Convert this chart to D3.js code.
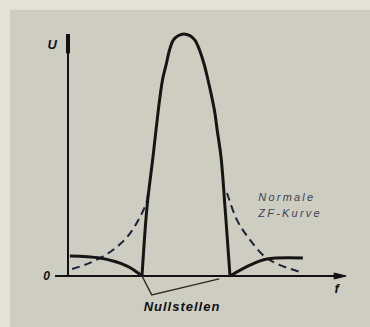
<!DOCTYPE html>
<html>
  <head>
    <meta charset="utf-8">
    <title>Normale ZF-Kurve</title>
    <script src="https://cdn.jsdelivr.net/npm/d3@7"></script>
    <style>

body {
  margin: 0;
  background: #e3e2d9;
}

text {
  font-family: "Liberation Sans", Arial, sans-serif;
  font-style: italic;
  font-weight: bold;
  fill: #111;
}

.axis line, .axis path {
  stroke: #111;
  stroke-width: 2;
  fill: none;
}

.main {
  fill: none;
  stroke: #151515;
  stroke-width: 3;
}

.normal {
  fill: none;
  stroke: #1c2336;
  stroke-width: 2;
  stroke-dasharray: 8 5;
}

.pointer {
  fill: none;
  stroke: #2a2a2a;
  stroke-width: 1.4;
}

.note {
  font-weight: normal;
  font-size: 11px;
  letter-spacing: 2.2px;
  fill: #3b4356;
}

    </style>
  </head>
  <body>
    <script>

// selektive Kurve: Hauptmaximum + Nebenkeulen (f, U)
var mainLobe = [
  [2.741, 0], [2.926, 0.285], [3.148, 0.492], [3.259, 0.603], [3.333, 0.674],
  [3.407, 0.74], [3.5, 0.81], [3.648, 0.88], [3.76, 0.934], [3.9, 0.975],
  [4.08, 0.993], [4.296, 1.0], [4.512, 0.993], [4.7, 0.975], [4.87, 0.934],
  [5.03, 0.88], [5.185, 0.81], [5.325, 0.74], [5.44, 0.674], [5.525, 0.603],
  [5.667, 0.492], [5.815, 0.285], [6.0, 0]
];
var leftLobe = [[0.07, 0.083], [1.19, 0.074], [2.19, 0.041], [2.741, 0]];
var rightLobe = [[6.0, 0], [6.74, 0.045], [7.37, 0.07], [8.7, 0.074]];

// normale ZF-Kurve (gestrichelt)
var normalLeft = [[0.15, 0.029], [0.81, 0.054], [1.56, 0.099], [2.19, 0.161], [2.67, 0.244], [2.93, 0.314], [2.96, 0.355]];
var normalRight = [[5.89, 0.343], [6.26, 0.231], [6.74, 0.149], [7.3, 0.079], [7.85, 0.045], [8.6, 0.017]];

// Nullstellen-Hinweis
var zeros = [2.741, 6.0];
var pointerTip = [3.1, -0.078];

var labelU = "U",
    labelF = "f",
    labelZero = "0",
    labelZeros = "Nullstellen",
    noteLines = ["Normale", "ZF-Kurve"];

var w = 370,
    h = 327,
    x = d3.scaleLinear().domain([0, 10]).range([68, 338]),
    y = d3.scaleLinear().domain([0, 1]).range([276, 34]);

var svg = d3.select("body")
  .append("svg")
    .attr("width", w)
    .attr("height", h);

svg.append("rect")
    .attr("x", 10)
    .attr("y", 10)
    .attr("width", w - 10)
    .attr("height", h - 10)
    .attr("fill", "#cecdc1");

// Achsen
var ax = svg.append("g").attr("class", "axis");

ax.append("line")
    .attr("x1", x(0))
    .attr("x2", x(0))
    .attr("y1", y(1))
    .attr("y2", y(0));

ax.append("line")
    .style("stroke-width", 4)
    .attr("x1", x(0))
    .attr("x2", x(0))
    .attr("y1", y(1))
    .attr("y2", y(0.92));

ax.append("line")
    .attr("x1", x(-0.48))
    .attr("x2", x(10.1))
    .attr("y1", y(0))
    .attr("y2", y(0));

ax.append("path")
    .style("fill", "#111")
    .style("stroke-width", 1)
    .attr("d", "M" + x(10.3) + "," + y(0) + "l-12,-3v6z");

svg.append("text")
    .attr("x", x(0) - 11)
    .attr("y", y(0.94))
    .attr("font-size", 13)
    .attr("text-anchor", "end")
    .text(labelU);

svg.append("text")
    .attr("x", x(0) - 18)
    .attr("y", y(0) + 4)
    .attr("font-size", 12)
    .attr("text-anchor", "end")
    .text(labelZero);

svg.append("text")
    .attr("x", x(9.95))
    .attr("y", y(-0.07))
    .attr("font-size", 13)
    .attr("text-anchor", "middle")
    .text(labelF);

// Kurven
var line = d3.line()
    .x(function(d) { return x(d[0]); })
    .y(function(d) { return y(d[1]); })
    .curve(d3.curveCatmullRom.alpha(0.5));

svg.selectAll("path.normal")
    .data([normalLeft, normalRight])
  .enter().append("path")
    .attr("class", "normal")
    .attr("d", line);

svg.selectAll("path.main")
    .data([leftLobe, mainLobe, rightLobe])
  .enter().append("path")
    .attr("class", "main")
    .attr("d", line);

// Nullstellen
svg.append("path")
    .attr("class", "pointer")
    .attr("d", d3.line()
      .x(function(d) { return x(d[0]); })
      .y(function(d) { return y(d[1]); })([[zeros[0], 0], pointerTip, [zeros[1] - 0.4, -0.012]]));

svg.append("text")
    .attr("x", x((zeros[0] + zeros[1]) / 2) - 4)
    .attr("y", y(-0.145))
    .attr("font-size", 13)
    .attr("letter-spacing", 1)
    .attr("text-anchor", "middle")
    .text(labelZeros);

svg.selectAll("text.note")
    .data(noteLines)
  .enter().append("text")
    .attr("class", "note")
    .attr("x", x(7.05))
    .attr("y", function(d, i) { return y(0.31) + i * 16; })
    .text(function(d) { return d; });

    </script>
  </body>
</html>
